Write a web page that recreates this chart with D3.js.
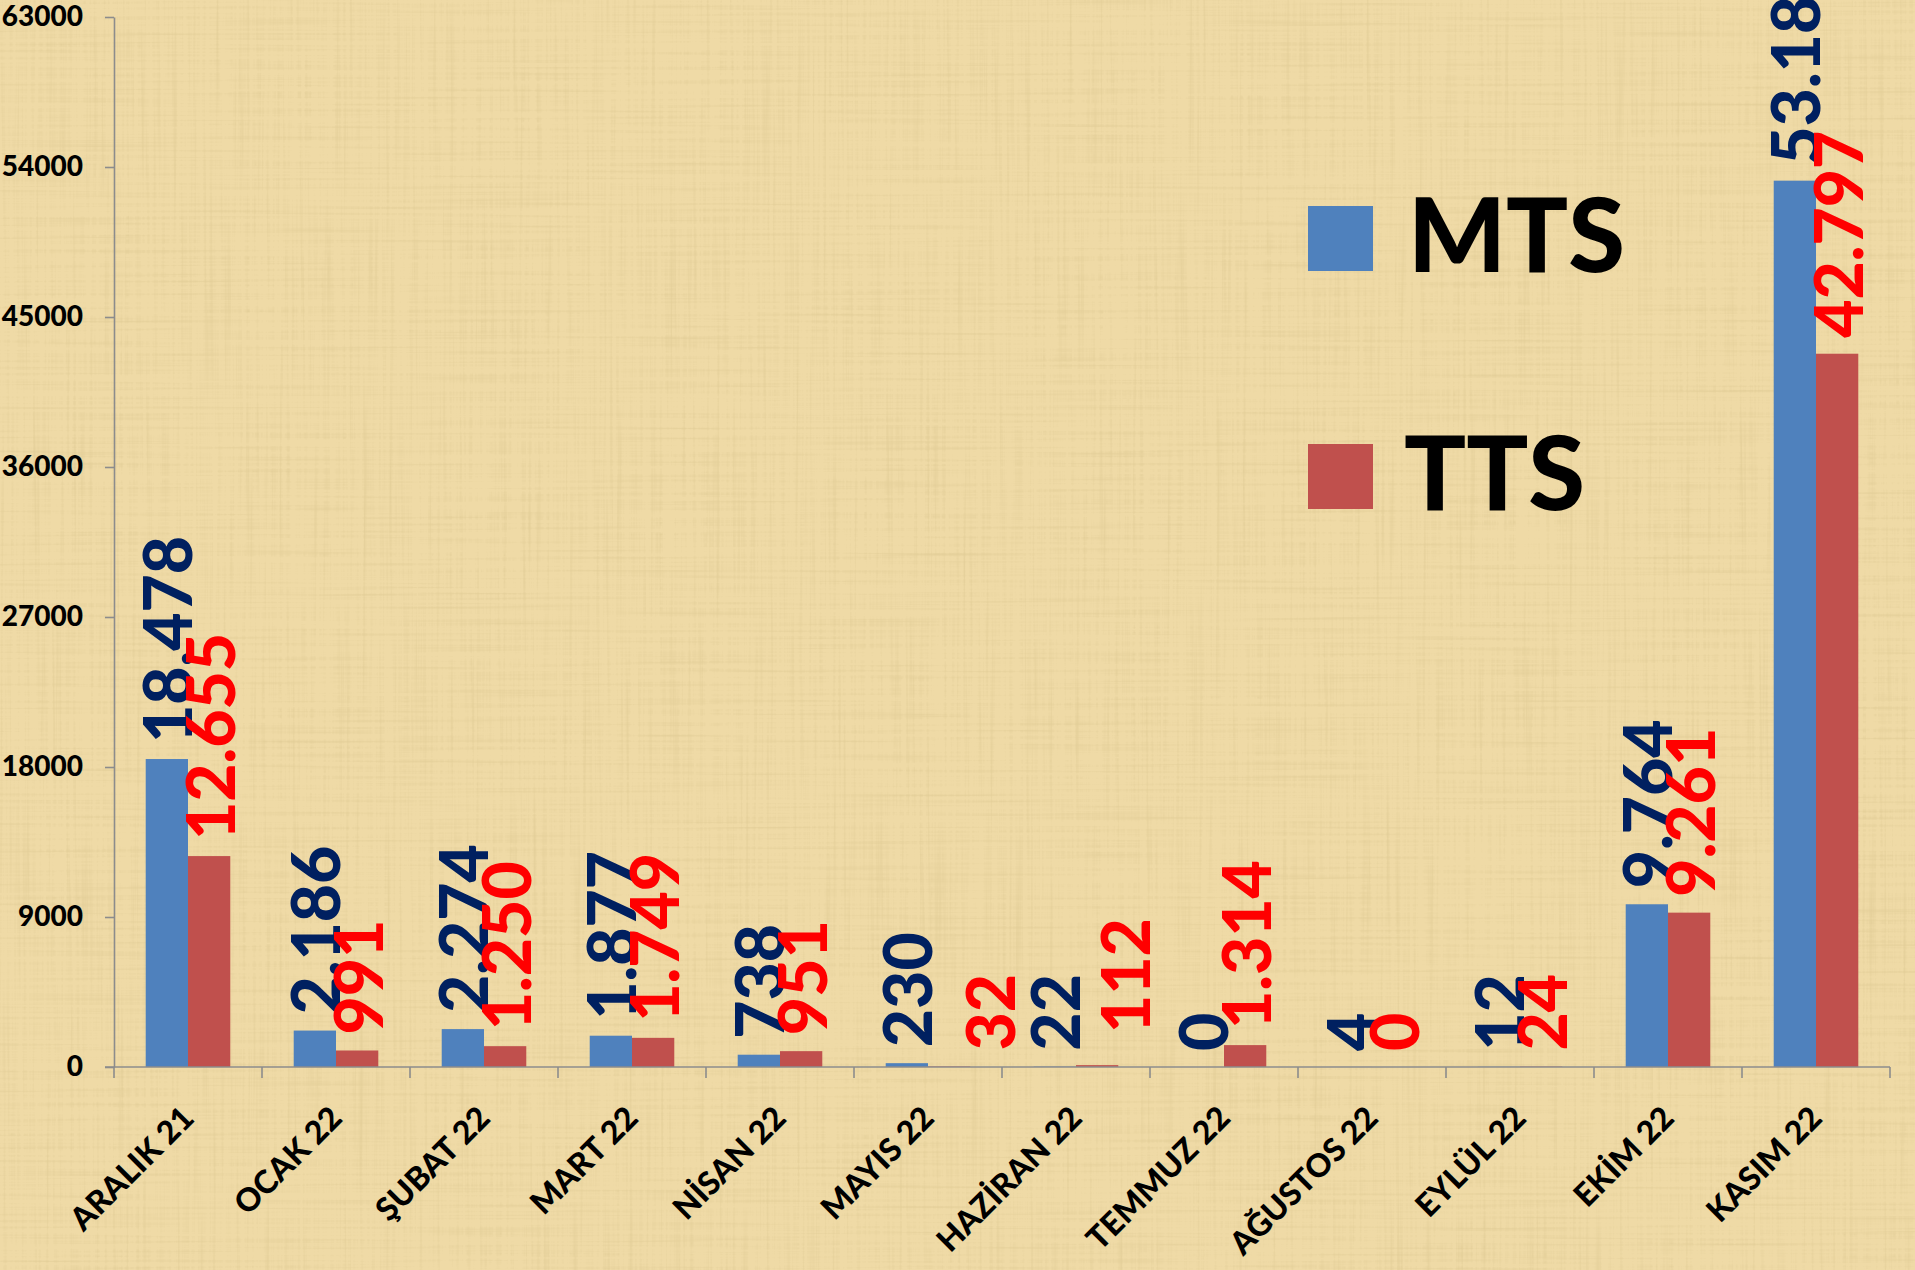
<!DOCTYPE html>
<html>
<head>
<meta charset="utf-8">
<script src="https://cdn.jsdelivr.net/npm/d3@7"></script>
<style>
    html, body { margin: 0; padding: 0; background: #e9d39c; }
    svg { display: block; }
    text { font-family: Lato, "Open Sans", sans-serif; font-weight: 900; }
</style>
</head>
<body>
<svg id="chart" width="1915" height="1270"></svg>
<script>
// chart values
var categories = ["ARALIK 21", "OCAK 22", "ŞUBAT 22", "MART 22", "NİSAN 22", "MAYIS 22",
    "HAZİRAN 22", "TEMMUZ 22", "AĞUSTOS 22", "EYLÜL 22", "EKİM 22", "KASIM 22"];
var seriesNames = ["MTS", "TTS"];
var mtsValues = [18478, 2186, 2274, 1877, 738, 230, 22, 0, 4, 12, 9764, 53180];
var ttsValues = [12655, 991, 1250, 1749, 951, 32, 112, 1314, 0, 24, 9261, 42797];
var yTicks = [0, 9000, 18000, 27000, 36000, 45000, 54000, 63000];

var barColors = {MTS: "#4f81bd", TTS: "#c0504d"};
var labelColors = {MTS: "#002060", TTS: "#ff0000"};
// hand moved labels in the original (dx, dy)
var labelNudge = {"MAYIS 22|TTS": [40, 0], "HAZİRAN 22|TTS": [27, -16]};

var svg = d3.select("#chart");
var W = 1915, H = 1270;

// papyrus-ish background
var defs = svg.append("defs");
var f = defs.append("filter").attr("id", "paper")
    .attr("x", 0).attr("y", 0).attr("width", "100%").attr("height", "100%");
f.append("feTurbulence").attr("type", "fractalNoise").attr("baseFrequency", "0.3 0.005")
    .attr("numOctaves", 3).attr("seed", 3).attr("result", "v");
f.append("feTurbulence").attr("type", "fractalNoise").attr("baseFrequency", "0.005 0.3")
    .attr("numOctaves", 3).attr("seed", 7).attr("result", "h");
f.append("feBlend").attr("in", "v").attr("in2", "h").attr("mode", "multiply").attr("result", "n");
f.append("feColorMatrix").attr("in", "n").attr("type", "matrix")
    .attr("values", "0 0 0 0 0.62  0 0 0 0 0.49  0 0 0 0 0.22  -1.0 0 0 0 0.45");
svg.append("rect").attr("width", W).attr("height", H).attr("fill", "#efdaa6");
svg.append("rect").attr("width", W).attr("height", H).attr("filter", "url(#paper)");

var plotLeft = 114, plotRight = 1890, plotTop = 17, plotBottom = 1067;

var x0 = d3.scaleBand().domain(categories).range([plotLeft, plotRight]).padding(0);
var x1 = d3.scaleBand().domain(seriesNames).range([0, x0.bandwidth()])
    .paddingInner(0).paddingOuter(0.75);
var y = d3.scaleLinear().domain([0, 63000]).range([plotBottom, plotTop]);

var trFormat = d3.formatLocale({decimal: ",", thousands: ".", grouping: [3], currency: ["", ""]}).format(",d");

var rows = categories.map(function (c, i) {
    return {cat: c, MTS: mtsValues[i], TTS: ttsValues[i]};
});

// y axis
var yAxis = svg.append("g")
    .attr("transform", "translate(" + plotLeft + ",0)")
    .call(d3.axisLeft(y).tickValues(yTicks).tickSize(9).tickSizeOuter(0).tickPadding(22).tickFormat(d3.format("d")));
yAxis.select(".domain").attr("stroke", "#8c8c8c").attr("stroke-width", 1.6);
yAxis.selectAll(".tick line").attr("stroke", "#8c8c8c").attr("stroke-width", 1.6);
yAxis.selectAll(".tick text").attr("fill", "#000").style("font-size", "28px")
    .style("font-family", "Lato, sans-serif").style("font-weight", "900");

// bars
var groups = svg.append("g").selectAll("g")
    .data(rows)
    .enter().append("g")
    .attr("transform", function (d) { return "translate(" + x0(d.cat) + ",0)"; });

groups.selectAll("rect")
    .data(function (d) { return seriesNames.map(function (k) { return {key: k, value: d[k], cat: d.cat}; }); })
    .enter().append("rect")
    .attr("x", function (d) { return x1(d.key); })
    .attr("width", x1.bandwidth())
    .attr("y", function (d) { return y(d.value); })
    .attr("height", function (d) { return plotBottom - y(d.value); })
    .attr("fill", function (d) { return barColors[d.key]; });

// x axis line + boundary ticks
var bounds = categories.map(function (c) { return x0(c); }).concat([x0.range()[1]]);
svg.append("line")
    .attr("x1", plotLeft - 9).attr("x2", plotRight)
    .attr("y1", plotBottom).attr("y2", plotBottom)
    .attr("stroke", "#8c8c8c").attr("stroke-width", 1.6);
svg.append("g").selectAll("line")
    .data(bounds)
    .enter().append("line")
    .attr("x1", function (d) { return d; }).attr("x2", function (d) { return d; })
    .attr("y1", plotBottom).attr("y2", plotBottom + 11)
    .attr("stroke", "#8c8c8c").attr("stroke-width", 1.6);

// category labels
svg.append("g").selectAll("text")
    .data(categories)
    .enter().append("text")
    .attr("transform", function (d) {
        return "translate(" + (x0(d) + x0.bandwidth() / 2 + 8) + "," + (plotBottom + 53) + ") rotate(-45)";
    })
    .attr("text-anchor", "end")
    .style("font-size", "32px")
    .attr("fill", "#000")
    .text(function (d) { return d; });

// data labels
groups.selectAll("text")
    .data(function (d) { return seriesNames.map(function (k) { return {key: k, value: d[k], cat: d.cat}; }); })
    .enter().append("text")
    .attr("transform", function (d) {
        var n = labelNudge[d.cat + "|" + d.key] || [0, 0];
        var cx = x1(d.key) + x1.bandwidth() / 2 + n[0];
        var cy = y(d.value) - 16 + n[1];
        return "translate(" + cx + "," + cy + ") rotate(-90)";
    })
    .attr("text-anchor", "start")
    .attr("dominant-baseline", "central")
    .style("font-size", "66px")
    .attr("fill", function (d) { return labelColors[d.key]; })
    .text(function (d) { return trFormat(d.value); });

// legend
var legend = svg.append("g").selectAll("g")
    .data(seriesNames)
    .enter().append("g")
    .attr("transform", function (d, i) { return "translate(1308," + (206 + i * 238) + ")"; });
legend.append("rect")
    .attr("width", 65).attr("height", 65)
    .attr("fill", function (d) { return barColors[d]; });
legend.append("text")
    .attr("x", function (d, i) { return i === 0 ? 100 : 96; })
    .attr("y", 66)
    .style("font-size", "103px")
    .attr("fill", "#000")
    .text(function (d) { return d; });
</script>
</body>
</html>
